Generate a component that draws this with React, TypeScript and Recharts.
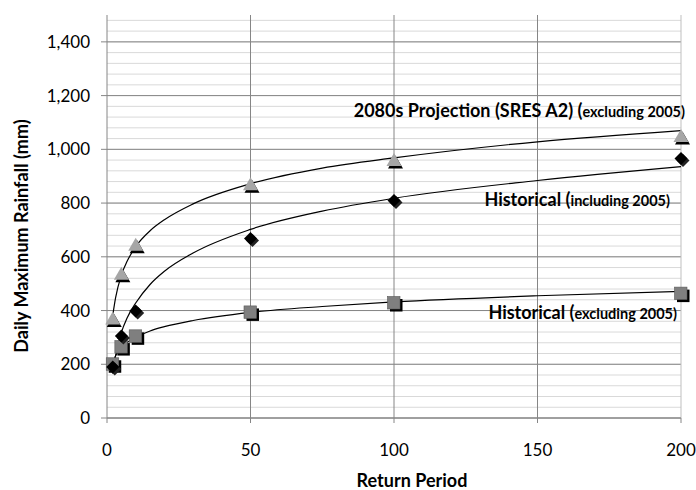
import React from 'react';
import { ComposedChart, Scatter, Line, XAxis, YAxis, CartesianGrid, Customized } from 'recharts';

// observed return-period values
const returnPeriods = [2, 5, 10, 50, 100, 200];
const projection2080s = [370, 537, 645, 870, 960, 1050];
const historicalIncl2005 = [190, 305, 398, 668, 810, 966];
const historicalExcl2005 = [200, 264, 304, 393, 428, 463];

// logarithmic trend lines
const trendPeriods = [2, 3, 5, 7, 10, 15, 20, 30, 50, 75, 100, 150, 200];
const projectionTrend = [382, 448, 532, 583, 638, 697, 738, 797, 872, 930, 968, 1028, 1070];
const inclTrend = [165, 232, 318, 372, 428, 497, 546, 614, 702, 770, 818, 884, 936];
const exclTrend = [208, 232, 262, 281, 300, 324, 340, 363, 393, 415, 432, 455, 471];

const xTicks = [0, 50, 100, 150, 200];
const yTicks = [0, 200, 400, 600, 800, 1000, 1200, 1400];

const FONT = 'Lato, "Open Sans", sans-serif';

const toPoints = (xs: number[], ys: number[]) => xs.map((x, i) => ({ x, y: ys[i] }));

const TriangleMark = (props: any) => {
  const { cx, cy } = props;
  const tri = (dx: number, dy: number) =>
    `${cx + dx},${cy - 7 + dy} ${cx + 7.5 + dx},${cy + 6 + dy} ${cx - 7.5 + dx},${cy + 6 + dy}`;
  return (
    <g>
      <polygon points={tri(1.5, 2.5)} fill="#000" />
      <polygon points={tri(0, 0)} fill="#a6a6a6" />
    </g>
  );
};

const DiamondMark = (props: any) => {
  const { cx, cy } = props;
  const dia = (dx: number, dy: number) =>
    `${cx + dx},${cy - 6.5 + dy} ${cx + 6.5 + dx},${cy + dy} ${cx + dx},${cy + 6.5 + dy} ${cx - 6.5 + dx},${cy + dy}`;
  return (
    <g>
      <polygon points={dia(2, 2)} fill="#222" />
      <polygon points={dia(0, 0)} fill="#000" />
    </g>
  );
};

const SquareMark = (props: any) => {
  const { cx, cy } = props;
  return (
    <g>
      <rect x={cx - 6 + 2} y={cy - 6 + 2} width={12.5} height={12.5} fill="#000" />
      <rect x={cx - 6.5} y={cy - 6.5} width={12.5} height={12.5} fill="#7f7f7f" stroke="#595959" strokeWidth={0.6} />
    </g>
  );
};

const Annotations = () => (
  <g fontFamily={FONT} fontWeight={700} fill="#000">
    <text x={685} y={117} textAnchor="end" fontSize={18}>
      2080s Projection (SRES A2) (<tspan fontSize={14.5}>excluding 2005)</tspan>
    </text>
    <text x={670} y={206} textAnchor="end" fontSize={18}>
      Historical (<tspan fontSize={14.5}>including 2005)</tspan>
    </text>
    <text x={677} y={319} textAnchor="end" fontSize={18}>
      Historical (<tspan fontSize={14.5}>excluding 2005)</tspan>
    </text>
    <text x={412} y={487} textAnchor="middle" fontSize={18}>
      Return Period
    </text>
    <text
      x={21}
      y={236}
      textAnchor="middle"
      dominantBaseline="central"
      fontSize={18}
      transform="rotate(-90, 21, 236)"
    >
      Daily Maximum Rainfall (mm)
    </text>
  </g>
);

export default function App() {
  const minorLines = Array.from({ length: 38 }, (_, i) => i * 40);
  const tickStyle = { fontFamily: FONT, fontSize: 17, fill: '#000' };

  return (
    <div style={{ position: 'absolute', left: 0, top: 0, width: 696, height: 490, background: '#fff' }}>
      <ComposedChart width={696} height={490} margin={{ top: 15, right: 15, bottom: 0, left: 0 }}>
        <CartesianGrid horizontalValues={minorLines} vertical={false} stroke="#d9d9d9" strokeWidth={1} />
        <CartesianGrid horizontalValues={yTicks} verticalValues={[50, 100, 150]} stroke="#868686" strokeWidth={1} />
        <CartesianGrid horizontal={false} verticalValues={[200]} stroke="#bfbfbf" strokeWidth={1} />
        <XAxis
          type="number"
          dataKey="x"
          domain={[0, 200]}
          ticks={xTicks}
          interval={0}
          height={72}
          tickSize={5}
          tickMargin={21}
          tick={tickStyle}
          axisLine={{ stroke: '#868686' }}
          tickLine={{ stroke: '#868686' }}
        />
        <YAxis
          type="number"
          dataKey="y"
          domain={[0, 1500]}
          ticks={yTicks}
          interval={0}
          width={107}
          tickSize={6}
          tickMargin={11}
          tick={tickStyle}
          tickFormatter={(v: number) => v.toLocaleString('en-US')}
          axisLine={{ stroke: '#868686' }}
          tickLine={{ stroke: '#868686' }}
        />
        <Scatter data={toPoints(returnPeriods, historicalExcl2005)} shape={SquareMark} isAnimationActive={false} />
        <Scatter data={toPoints(returnPeriods, historicalIncl2005)} shape={DiamondMark} isAnimationActive={false} />
        <Scatter data={toPoints(returnPeriods, projection2080s)} shape={TriangleMark} isAnimationActive={false} />
        <Line data={toPoints(trendPeriods, projectionTrend)} dataKey="y" type="monotone" stroke="#000" strokeWidth={1.2} dot={false} activeDot={false} isAnimationActive={false} />
        <Line data={toPoints(trendPeriods, inclTrend)} dataKey="y" type="monotone" stroke="#000" strokeWidth={1.2} dot={false} activeDot={false} isAnimationActive={false} />
        <Line data={toPoints(trendPeriods, exclTrend)} dataKey="y" type="monotone" stroke="#000" strokeWidth={1.2} dot={false} activeDot={false} isAnimationActive={false} />
        <Customized component={Annotations} />
      </ComposedChart>
    </div>
  );
}
